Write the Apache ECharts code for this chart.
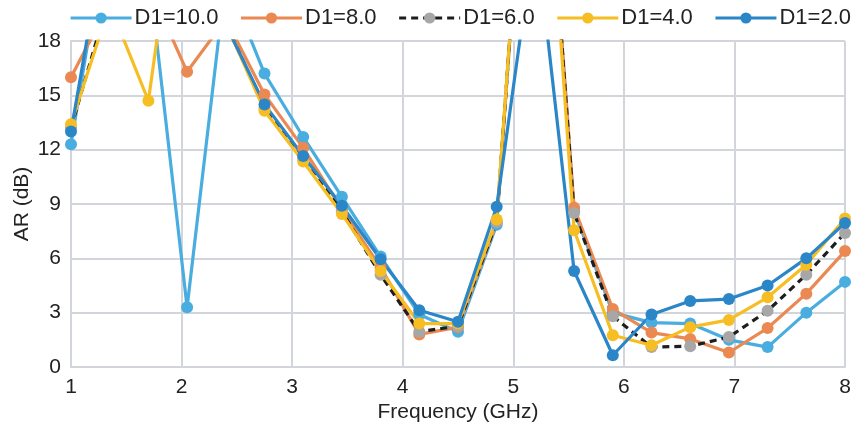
<!DOCTYPE html>
<html>
<head>
<meta charset="utf-8">
<script src="https://cdn.jsdelivr.net/npm/echarts@6/dist/echarts.min.js"></script>
<style>
html,body{margin:0;padding:0;background:#fff;}
#chart{width:858px;height:431px;}
</style>
</head>
<body>
<div id="chart"></div>
<script>
// Frequency sample points (GHz)
const freq = [1, 1.35, 1.7, 2.05, 2.4, 2.75, 3.1, 3.45, 3.8, 4.15, 4.5, 4.85, 5.2, 5.55, 5.9, 6.25, 6.6, 6.95, 7.3, 7.65, 8];
// AR (dB) per series (values above 18 run off the top of the plot)
const d10 = [12.3, 25.2, 22.0, 3.3, 21.5, 16.2, 12.7, 9.4, 6.1, 2.9, 1.95, 7.85, 38, 8.6, 3.0, 2.45, 2.4, 1.5, 1.1, 3.0, 4.7];
const d8  = [16.0, 20.1, 21.1, 16.3, 19.2, 15.05, 12.1, 8.7, 5.5, 1.8, 2.2, 8.0, 38, 8.8, 3.2, 1.9, 1.55, 0.8, 2.15, 4.05, 6.4];
const d6  = [13.2, 20.5, 26, 28, 19, 14.3, 11.5, 8.6, 5.1, 1.95, 2.25, 8.0, 38, 8.5, 2.8, 1.1, 1.15, 1.65, 3.1, 5.1, 7.4];
const d4  = [13.4, 20, 14.7, 30, 19, 14.15, 11.35, 8.45, 5.3, 2.4, 2.4, 8.15, 38, 7.55, 1.75, 1.2, 2.2, 2.6, 3.85, 5.65, 8.2];
const d2  = [13.0, 25.3, 28, 25, 18.9, 14.5, 11.65, 8.9, 5.95, 3.13, 2.5, 8.85, 24.2, 5.3, 0.65, 2.9, 3.65, 3.75, 4.5, 6.0, 7.95];
const names = ['D1=10.0', 'D1=8.0', 'D1=6.0', 'D1=4.0', 'D1=2.0'];
const xTicks = [1, 2, 3, 4, 5, 6, 7, 8];
const yTicks = [0, 3, 6, 9, 12, 15, 18];

const pair = arr => arr.map((v, i) => [freq[i], v]);
const colors = ['#4aaddf', '#ea8a52', '#a7a7a7', '#f6be22', '#2b86c8'];
const lineColors = ['#4aaddf', '#ea8a52', '#1e1e1e', '#f6be22', '#2b86c8'];
const datasets = [d10, d8, d6, d4, d2];

const series = datasets.map((d, i) => ({
  name: names[i],
  type: 'line',
  data: pair(d),
  symbol: 'circle',
  symbolSize: 12,
  showSymbol: true,
  clip: true,
  itemStyle: { color: colors[i] },
  lineStyle: { color: lineColors[i], width: 3.2, type: i === 2 ? [7, 5] : 'solid' },
  emphasis: { disabled: true },
  animation: false
}));

const chart = echarts.init(document.getElementById('chart'), null, { renderer: 'canvas' });
chart.setOption({
  animation: false,
  backgroundColor: '#ffffff',
  textStyle: { fontFamily: 'Liberation Sans, Arial, sans-serif' },
  legend: {
    top: 2,
    left: 64,
    itemWidth: 61,
    itemHeight: 14,
    itemGap: 21,
    lineStyle: { width: 3.2 },
    textStyle: { fontSize: 22, color: '#222', padding: [0, 0, 0, -2] },
    data: names
  },
  grid: { left: 71, right: 13, top: 41, bottom: 64, outerBoundsMode: 'none' },
  xAxis: {
    type: 'value',
    min: 1, max: 8, interval: 1,
    name: 'Frequency (GHz)',
    nameLocation: 'middle',
    nameGap: 35,
    nameMoveOverlap: false,
    nameTextStyle: { fontSize: 21, color: '#222' },
    axisLine: { show: true, lineStyle: { color: '#d2d5dc', width: 2 } },
    axisTick: { show: false },
    axisLabel: { fontSize: 21, color: '#222', margin: 10,
      formatter: v => xTicks.includes(v) ? String(v) : '' },
    splitLine: { show: true, lineStyle: { color: '#d2d5dc', width: 2 } }
  },
  yAxis: {
    type: 'value',
    min: 0, max: 18, interval: 3,
    name: 'AR (dB)',
    nameLocation: 'middle',
    nameGap: 38,
    nameMoveOverlap: false,
    nameTextStyle: { fontSize: 21, color: '#222' },
    axisLine: { show: true, lineStyle: { color: '#d2d5dc', width: 2 } },
    axisTick: { show: false },
    axisLabel: { fontSize: 21, color: '#222', margin: 10,
      formatter: v => yTicks.includes(v) ? String(v) : '' },
    splitLine: { show: true, lineStyle: { color: '#d2d5dc', width: 2 } }
  },
  series: series
});
</script>
</body>
</html>
